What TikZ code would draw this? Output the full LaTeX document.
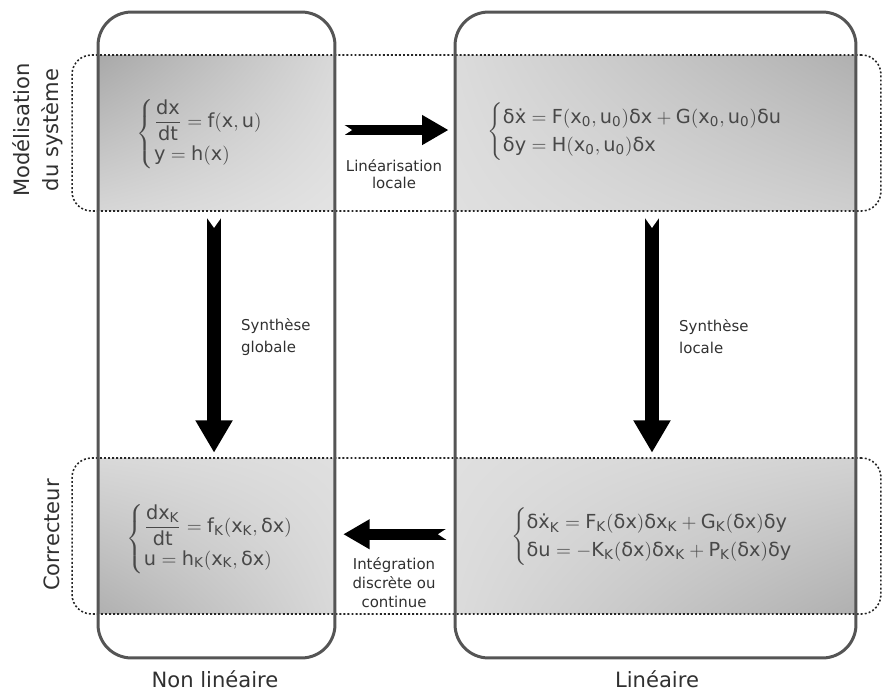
\documentclass[tikz,border=0pt]{standalone}
\usepackage{amsmath}
\usepackage{fontspec}
\setmainfont{DejaVu Sans}
\usetikzlibrary{arrows.meta,shadings}

\definecolor{framegray}{HTML}{555555}
\definecolor{eqgray}{HTML}{484848}
\definecolor{labgray}{HTML}{303030}
\newcommand{\rmv}[1]{\mathrm{#1}}
\newcommand{\dlt}{\text{δ}}
\newcommand{\xdot}{\text{ẋ}}

\begin{document}
\begin{tikzpicture}[x=0.02cm,y=-0.02cm,
  cell/.style={shade, inner sep=0pt, minimum height=3.12cm},
  nlcell/.style={cell, minimum width=4.74cm},
  lcell/.style={cell, minimum width=8.02cm},
  eq/.style={text=eqgray, font=\fontsize{11}{13}\selectfont, inner sep=0pt},
  band/.style={draw=black!85, line width=0.9pt, dash pattern=on 1.1pt off 1.2pt,
    rounded corners=11pt, minimum width=16.18cm, minimum height=3.12cm, inner sep=0pt},
  column/.style={draw=framegray, line width=1.7pt, rounded corners=19pt,
    minimum height=12.92cm, inner sep=0pt},
  hblock/.style={line width=6pt, -{Triangle[length=15pt,width=16pt]}},
  vblock/.style={line width=8pt, -{Triangle[length=18.5pt,width=20pt]}},
  steplabel/.style={text=labgray, font=\fontsize{8.5}{10}\selectfont},
  sidelabel/.style={text=labgray, font=\fontsize{12}{16.5}\selectfont, rotate=90, align=center}
]
\useasboundingbox (0,0) rectangle (884,693);

% shaded cells
\node[nlcell, upper left=gray!68, upper right=gray!30, lower left=gray!32, lower right=gray!22] (sysNL) at (216.5,133) {};
\node[lcell, upper left=gray!28, upper right=gray!62, lower left=gray!25, lower right=gray!38] (sysL) at (655.5,133) {};
\node[nlcell, upper left=gray!30, upper right=gray!25, lower left=gray!62, lower right=gray!30] (corNL) at (216.5,536) {};
\node[lcell, upper left=gray!25, upper right=gray!35, lower left=gray!28, lower right=gray!62] (corL) at (655.5,536) {};

% bands and columns
\node[band] (modband) at (476.5,133) {};
\node[band] (corband) at (476.5,536) {};
\node[column, minimum width=4.74cm] (nonlin) at (216.5,335) {};
\node[column, minimum width=8.02cm] (lin) at (655.5,335) {};

% equations
\node[eq] (eqSysNL) at (210,134) {$\begin{cases}\dfrac{\rmv{dx}}{\rmv{dt}}=\rmv{f(x,u)}\\ \rmv{y=h(x)}\end{cases}$};
\node[eq] (eqSysL) at (645,132) {$\begin{cases}\rmv{\dlt\xdot=F(x_0,u_0)\dlt x+G(x_0,u_0)\dlt u}\\ \rmv{\dlt y=H(x_0,u_0)\dlt x}\end{cases}$};
\node[eq] (eqCorNL) at (220,539) {$\begin{cases}\dfrac{\rmv{dx_K}}{\rmv{dt}}=\rmv{f_K(x_K,\dlt x)}\\ \rmv{u=h_K(x_K,\dlt x)}\end{cases}$};
\node[eq] (eqCorL) at (662,537) {$\begin{cases}\rmv{\dlt\xdot_K=F_K(\dlt x)\dlt x_K+G_K(\dlt x)\dlt y}\\ \rmv{\dlt u=-K_K(\dlt x)\dlt x_K+P_K(\dlt x)\dlt y}\end{cases}$};

% arrows, tails notched
\coordinate (linTail) at ([xshift=4.5pt,yshift=1.7pt]sysNL.east);
\coordinate (globTail) at ([xshift=-1.4pt,yshift=-3.4pt]sysNL.south);
\coordinate (locTail) at ([xshift=-2pt,yshift=-3.4pt]sysL.south);
\coordinate (intTail) at ([xshift=-4.5pt,yshift=1pt]corL.west);
\draw[hblock, shorten >=3.5pt] (linTail) -- ([yshift=1.7pt]sysL.west);
\draw[vblock, shorten >=2.8pt] (globTail) -- ([xshift=-1.4pt]corNL.north);
\draw[vblock, shorten >=2.8pt] (locTail) -- ([xshift=-2pt]corL.north);
\draw[hblock, shorten >=4.5pt] (intTail) -- ([yshift=1pt]corNL.east);
\fill[white] ([xshift=-0.5pt,yshift=3.6pt]linTail) -- ([xshift=5pt]linTail) -- ([xshift=-0.5pt,yshift=-3.6pt]linTail) -- cycle;
\fill[white] ([xshift=0.5pt,yshift=3.6pt]intTail) -- ([xshift=-5pt]intTail) -- ([xshift=0.5pt,yshift=-3.6pt]intTail) -- cycle;
\foreach \t in {globTail,locTail}
  \fill[white] ([xshift=-4.6pt,yshift=0.5pt]\t) -- ([yshift=-6pt]\t) -- ([xshift=4.6pt,yshift=0.5pt]\t) -- cycle;

% labels
\node[steplabel, align=center, font=\fontsize{8.5}{9.6}\selectfont] (linlab) at (394,174) {Linéarisation\\locale};
\node[steplabel, align=left, anchor=west, font=\fontsize{8.5}{12.5}\selectfont] (globlab) at (235,337) {Synthèse\\globale};
\node[steplabel, align=left, anchor=west, font=\fontsize{8.5}{12.5}\selectfont] (loclab) at (673,337) {Synthèse\\locale};
\node[steplabel, align=center, font=\fontsize{8.5}{10.8}\selectfont] (intlab) at (394,583) {Intégration\\discrète ou\\continue};
\node[sidelabel] (modlab) at (38,130) {Modélisation\\du système};
\node[sidelabel] (corlab) at (52,535) {Correcteur};
\node[text=labgray, font=\fontsize{12}{14}\selectfont] (nllab) at (215,679) {Non linéaire};
\node[text=labgray, font=\fontsize{12}{14}\selectfont] (llab) at (657,679) {Linéaire};
\end{tikzpicture}
\end{document}
